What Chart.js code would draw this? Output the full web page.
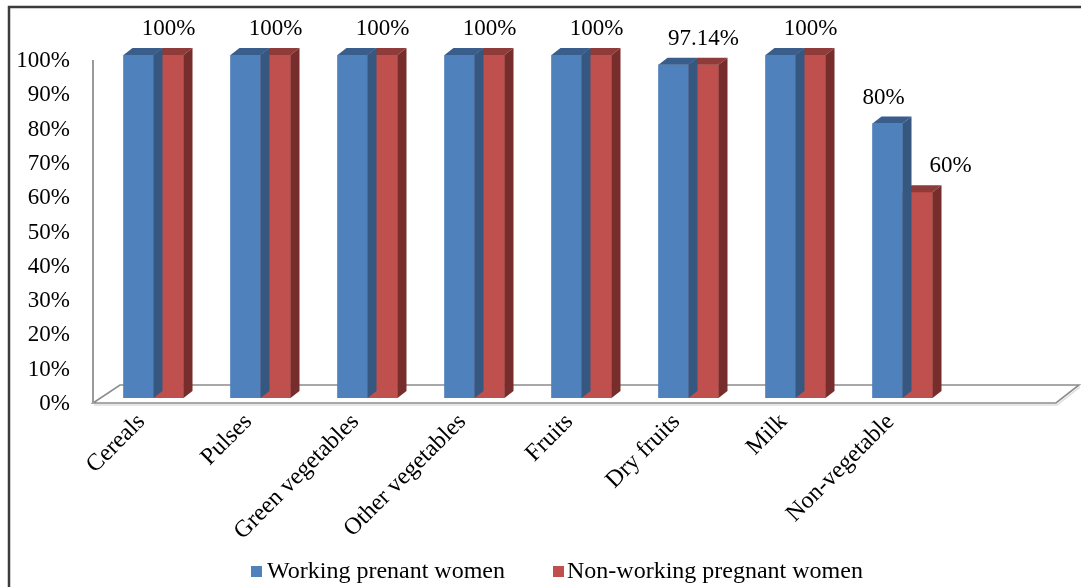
<!DOCTYPE html>
<html>
<head>
<meta charset="utf-8">
<title>Food group consumption</title>
<script src="https://cdn.jsdelivr.net/npm/chart.js@4.4.1/dist/chart.umd.min.js"></script>
<style>
  html, body { margin: 0; padding: 0; background: #fff; }
  canvas { display: block; }
</style>
</head>
<body>
<canvas id="c" width="1081" height="587"></canvas>
<script>
// Food groups and share of women consuming each one (%)
const categories = ['Cereals', 'Pulses', 'Green vegetables', 'Other vegetables', 'Fruits', 'Dry fruits', 'Milk', 'Non-vegetable'];
const working = [100, 100, 100, 100, 100, 97.14, 100, 80];
const nonWorking = [100, 100, 100, 100, 100, 97.14, 100, 60];
const seriesNames = ['Working prenant women', 'Non-working pregnant women'];
const yTickValues = [0, 10, 20, 30, 40, 50, 60, 70, 80, 90, 100];

const FONT = '"Liberation Serif", "Times New Roman", serif';
const DX = 9, DY = 7;           // depth of the extruded bar faces

const fmt = v => v + '%';

const extrude = {
  id: 'extrude',
  beforeDraw(chart) {
    const ctx = chart.ctx;
    ctx.save();
    ctx.fillStyle = '#fff';
    ctx.fillRect(0, 0, chart.width, chart.height);
    // frame (top and left edges)
    ctx.strokeStyle = '#3c3c3c';
    ctx.lineWidth = 2.5;
    ctx.beginPath();
    ctx.moveTo(chart.width, 7);
    ctx.lineTo(9, 7);
    ctx.lineTo(9, chart.height);
    ctx.stroke();
    ctx.restore();
  },
  beforeDatasetsDraw(chart) {
    const ctx = chart.ctx;
    const a = chart.chartArea;
    const y = chart.scales.y;
    // the floor runs one empty category slot past the last group
    const slot = (a.right - a.left) / categories.length;
    const fl = [a.left - 7, a.bottom + 5];
    const fr = [a.right + slot - 7, a.bottom + 5];
    const bl = [a.left + 20, a.bottom - 13];
    const br = [a.right + slot + 16, a.bottom - 13];
    ctx.save();
    // soft shadow under the floor front edge
    ctx.strokeStyle = '#dedede';
    ctx.lineWidth = 1.5;
    ctx.beginPath();
    ctx.moveTo(fl[0] + 1, fl[1] + 2);
    ctx.lineTo(fr[0] + 1, fr[1] + 2);
    ctx.lineTo(br[0] + 1, br[1] + 2);
    ctx.stroke();
    // floor
    ctx.fillStyle = '#fff';
    ctx.strokeStyle = '#8c8c8c';
    ctx.lineWidth = 1.6;
    ctx.beginPath();
    ctx.moveTo(fl[0], fl[1]);
    ctx.lineTo(fr[0], fr[1]);
    ctx.lineTo(br[0], br[1]);
    ctx.lineTo(bl[0], bl[1]);
    ctx.closePath();
    ctx.fill();
    ctx.stroke();
    // value axis line
    ctx.strokeStyle = '#9a9a9a';
    ctx.lineWidth = 2;
    ctx.beginPath();
    ctx.moveTo(fl[0], y.getPixelForValue(100) + 5);
    ctx.lineTo(fl[0], fl[1]);
    ctx.stroke();
    ctx.restore();
  },
  afterDatasetDraw(chart, args) {
    const ctx = chart.ctx;
    const ds = chart.data.datasets[args.index];
    ctx.save();
    args.meta.data.forEach(bar => {
      const p = bar.getProps(['x', 'y', 'base', 'width'], true);
      const l = p.x - p.width / 2, r = p.x + p.width / 2;
      ctx.fillStyle = ds.topColor;
      ctx.beginPath();
      ctx.moveTo(l, p.y);
      ctx.lineTo(l + DX, p.y - DY);
      ctx.lineTo(r + DX, p.y - DY);
      ctx.lineTo(r, p.y);
      ctx.closePath();
      ctx.fill();
      ctx.fillStyle = ds.sideColor;
      ctx.beginPath();
      ctx.moveTo(r, p.y);
      ctx.lineTo(r + DX, p.y - DY);
      ctx.lineTo(r + DX, p.base - DY);
      ctx.lineTo(r, p.base);
      ctx.closePath();
      ctx.fill();
    });
    ctx.restore();
  },
  afterDatasetsDraw(chart) {
    const ctx = chart.ctx;
    const m0 = chart.getDatasetMeta(0).data;
    const m1 = chart.getDatasetMeta(1).data;
    ctx.save();
    ctx.fillStyle = '#000';
    ctx.font = '23px ' + FONT;
    ctx.textBaseline = 'middle';
    categories.forEach((c, i) => {
      const vb = working[i], vr = nonWorking[i];
      const b = m0[i], r = m1[i];
      if (vb === vr) {
        ctx.textAlign = 'center';
        ctx.fillText(fmt(vr), r.x, r.y - 26);
      } else {
        ctx.textAlign = 'center';
        ctx.fillText(fmt(vb), b.x - 4, b.y - 26);
        if (vr < vb) {
          ctx.textAlign = 'left';
          ctx.fillText(fmt(vr), r.x + r.width / 2 - 3, r.y - 26);
        } else {
          ctx.fillText(fmt(vr), r.x, r.y - 26);
        }
      }
    });
    ctx.restore();
  },
  afterDraw(chart) {
    // legend row
    const ctx = chart.ctx;
    ctx.save();
    ctx.font = '24px ' + FONT;
    ctx.textBaseline = 'middle';
    ctx.textAlign = 'left';
    let x = 251;
    const yc = 572;
    chart.data.datasets.forEach((ds, i) => {
      ctx.fillStyle = ds.backgroundColor;
      ctx.fillRect(x, yc - 6, 11, 11);
      x += 11 + (i === 0 ? 5 : 3);
      ctx.fillStyle = '#000';
      ctx.fillText(ds.label, x, yc);
      x += ctx.measureText(ds.label).width + 48;
    });
    ctx.restore();
  }
};

new Chart(document.getElementById('c'), {
  type: 'bar',
  data: {
    labels: categories,
    datasets: [
      { label: seriesNames[0], data: working, backgroundColor: '#4F81BD', topColor: '#3A5E8C', sideColor: '#36577F', barThickness: 30 },
      { label: seriesNames[1], data: nonWorking, backgroundColor: '#C0504D', topColor: '#8E3B39', sideColor: '#772D2B', barThickness: 30 }
    ]
  },
  options: {
    responsive: false,
    devicePixelRatio: 1,
    animation: false,
    layout: { padding: { left: 10, top: 55, right: 125, bottom: 49 } },
    plugins: {
      legend: { display: false },
      tooltip: { enabled: false }
    },
    scales: {
      x: {
        afterFit(s) { s.height = 140; },
        grid: { display: false, drawTicks: false },
        border: { display: false },
        ticks: {
          autoSkip: false,
          minRotation: 45,
          maxRotation: 45,
          padding: 10,
          labelOffset: -12,
          color: '#000',
          font: { family: FONT, size: 24 }
        }
      },
      y: {
        min: 0,
        max: 100,
        afterFit(s) { s.width = 90; },
        afterBuildTicks(s) { s.ticks = yTickValues.map(v => ({ value: v })); },
        grid: { display: false, drawTicks: false },
        border: { display: false },
        ticks: {
          padding: 30,
          labelOffset: 6,
          color: '#000',
          font: { family: FONT, size: 23 },
          callback: v => fmt(v)
        }
      }
    }
  },
  plugins: [extrude]
});
</script>
</body>
</html>
